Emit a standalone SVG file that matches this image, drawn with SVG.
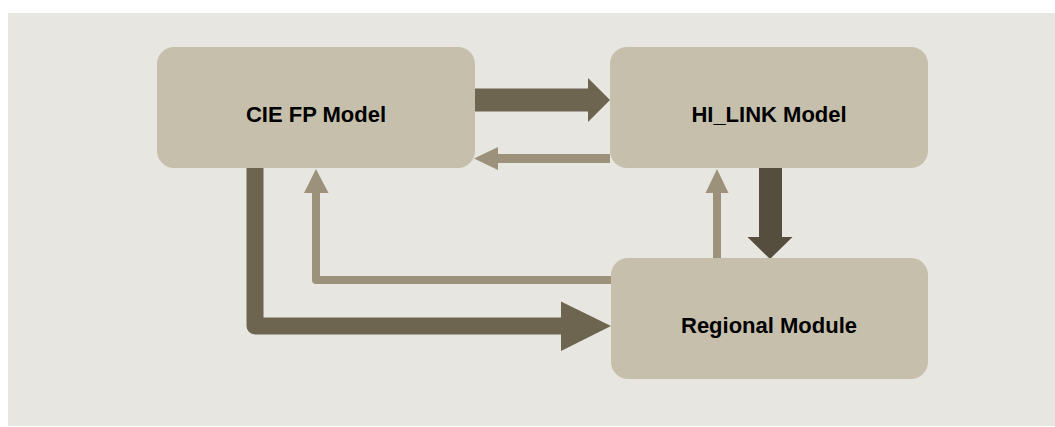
<svg xmlns="http://www.w3.org/2000/svg" width="1055" height="427" viewBox="0 0 1055 427">
  <style>
    .node rect { fill: #c6bfac; }
    .node text { font-family: "Liberation Sans", Arial, sans-serif; font-weight: bold; font-size: 22px; fill: #000; text-anchor: middle; }
    .dark { fill: #6d6550; }
    .darker { fill: #554e3e; }
    .light { fill: #9c917b; }
    .darkline { fill: none; stroke: #6d6550; stroke-width: 17; stroke-linejoin: round; }
    .lightline { fill: none; stroke: #9c917b; stroke-width: 8; stroke-linejoin: round; }
  </style>
  <rect x="0" y="0" width="1055" height="427" fill="#ffffff"/>
  <rect x="8" y="13" width="1047" height="413" fill="#e8e6e1"/>
  <g id="connectors">
    <!-- CIE FP -> HI_LINK -->
    <polygon class="dark" points="475,88.5 588,88.5 588,78 610,100 588,122 588,111.5 475,111.5"/>
    <!-- HI_LINK -> CIE FP -->
    <polygon class="light" points="610,154 498,154 498,147 474,158.5 498,170 498,163 610,163"/>
    <!-- HI_LINK -> Regional -->
    <polygon class="darker" points="759,168 782,168 782,237 792.5,237 770,259 747.5,237 759,237"/>
    <!-- Regional -> HI_LINK -->
    <polygon class="light" points="713,258 721,258 721,193 728.5,193 717,169 705.5,193 713,193"/>
    <!-- CIE FP -> Regional -->
    <path class="darkline" d="M255,167 L255,326 L562,326"/>
    <polygon class="dark" points="561,301.5 611,326 561,351"/>
    <!-- Regional -> CIE FP -->
    <path class="lightline" d="M611,280 L316,280 L316,192"/>
    <polygon class="light" points="304,193 316,169 328.5,193"/>
  </g>
  <g id="node-cie" class="node">
    <rect x="157" y="47" width="318" height="121" rx="17"/>
    <text x="316" y="122">CIE FP Model</text>
  </g>
  <g id="node-hilink" class="node">
    <rect x="610" y="47" width="318" height="121" rx="17"/>
    <text x="769" y="122">HI_LINK Model</text>
  </g>
  <g id="node-regional" class="node">
    <rect x="611" y="258" width="317" height="121" rx="17"/>
    <text x="769" y="333">Regional Module</text>
  </g>
</svg>
